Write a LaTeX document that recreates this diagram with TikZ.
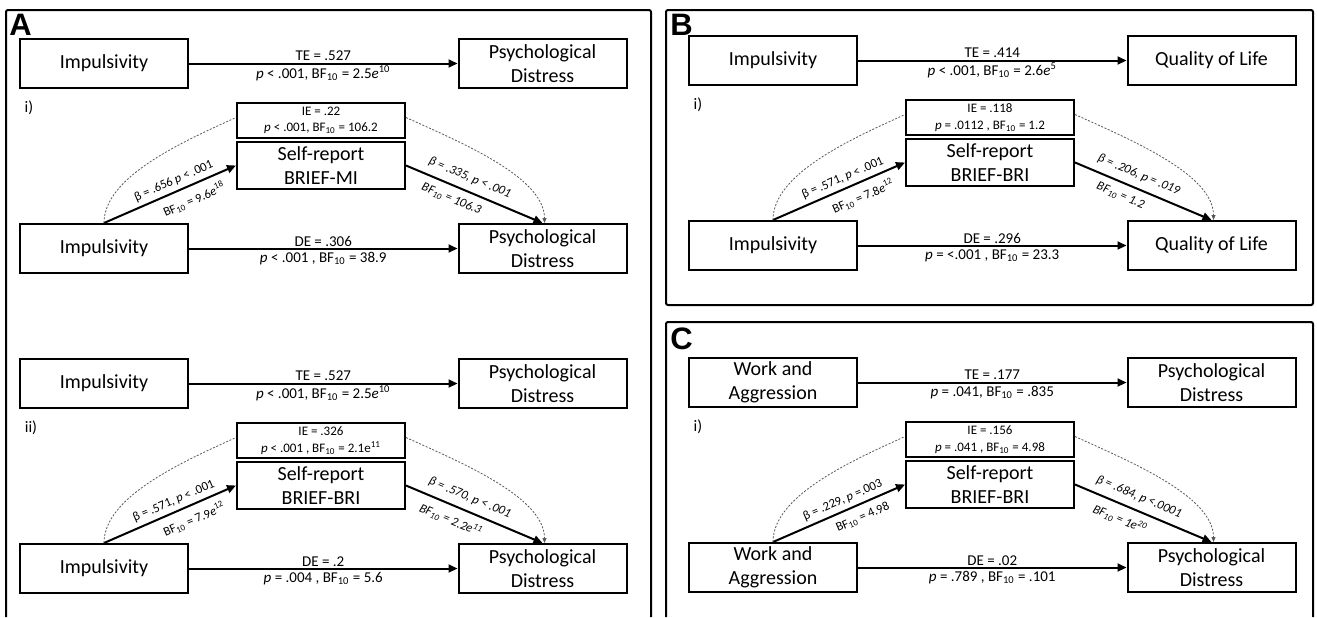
\documentclass[tikz,border=0pt]{standalone}
\usepackage{fontspec}
\setmainfont{Carlito}
\newfontfamily\hvfont{Liberation Sans}
\usetikzlibrary{arrows.meta}
\tikzset{
  box/.style={draw, line width=1pt, minimum width=84pt, minimum height=24.5pt, inner sep=0pt, align=center, font=\fontsize{10}{12}\selectfont},
  medbox/.style={box, minimum height=23.5pt},
  iebox/.style={draw, line width=1pt, minimum width=84pt, minimum height=17.5pt, inner sep=0pt, align=center, font=\fontsize{6.5}{8.3}\selectfont},
  lab/.style={inner sep=0.5pt, font=\fontsize{7.5}{9}\selectfont},
  slab/.style={sloped, inner sep=0.5pt, font=\fontsize{6.3}{7.5}\selectfont},
  slabit/.style={slab, font=\fontsize{6.3}{7.5}\selectfont\itshape},
  rom/.style={inner sep=0pt, font=\fontsize{8}{9}\selectfont},
  arr/.style={line width=1pt, -{Triangle[length=4.5pt,width=4pt]}},
  dshline/.style={line width=0.4pt, draw=gray!70!black, dash pattern=on 1pt off 0.8pt},
  dsh/.style={dshline, -{Triangle[length=2.5pt,width=2pt]}},
  frame/.style={line width=1pt, rounded corners=1pt},
  plet/.style={inner sep=0pt, anchor=base west, font=\hvfont\bfseries\fontsize{15.5}{16}\selectfont}
}
\newcommand{\bften}{BF\textsubscript{10}}
\begin{document}
\begin{tikzpicture}[x=0.5pt,y=-0.5pt]
\useasboundingbox (0,0) rectangle (1317,617);
\fill[white] (0,0) rectangle (1317,617);
% frames
\draw[frame] (6,617) -- (6,10) -- (651,10) -- (651,617);
\draw[frame] (666,10) rectangle (1313,305);
\draw[frame] (666,617) -- (666,322) -- (1313,322) -- (1313,617);
\node[plet] (la) at (9,35) {A};
\node[plet] (lb) at (670,35) {B};
\node[plet] (lc) at (670,349) {C};

% ---------- Panel A (i)
\begin{scope}
\node[box] (a1x) at (104,63.5) {Impulsivity};
\node[box] (a1y) at (542.5,63.5) {Psychological\\Distress};
\draw[arr] (a1x) -- (a1y)
  node[lab,midway,yshift=3.8pt]{TE = .527}
  node[lab,midway,yshift=-5pt]{\textit{p} < .001, \bften{} = 2.5\textit{e}\textsuperscript{10}};
\node[rom] (a1r) at (29,108) {i)};
\node[iebox] (a1ie) at (321,120.5) {IE = .22\\\textit{p} < .001, \bften{} = 106.2};
\node[medbox] (a1m) at (321,165.5) {Self-report\\BRIEF-MI};
\node[box] (a1xx) at (104,248.5) {Impulsivity};
\node[box] (a1yy) at (542.5,248.5) {Psychological\\Distress};
\draw[arr] (a1xx) -- (a1yy)
  node[lab,midway,yshift=3.5pt]{DE = .306}
  node[lab,midway,yshift=-5pt]{\textit{p} < .001 , \bften{} = 38.9};
\draw[arr] (a1xx.north) -- (a1m.west)
  node[slab,pos=.56,above=1.5pt]{β = .656 \textit{p} < .001}
  node[slab,pos=.64,below=3pt]{\bften{} = 9.6\textit{e}\textsuperscript{18}};
\draw[arr] (a1m.east) -- (a1yy.north)
  node[slabit,pos=.43,above=3pt]{β = .335, \textit{p} < .001}
  node[slabit,pos=.37,below=3pt]{\bften{} = 106.3};
\draw[dshline] (a1xx.north) .. controls +(0,-46) and +(-55,25) .. ([yshift=1.5pt]a1ie.west);
\draw[dsh] ([yshift=1.5pt]a1ie.east) .. controls +(55,25) and +(0,-46) .. ([xshift=1pt]a1yy.north);
\end{scope}

% ---------- Panel A (ii)
\begin{scope}[shift={(0,320)}]
\node[box] (a2x) at (104,63.5) {Impulsivity};
\node[box] (a2y) at (542.5,63.5) {Psychological\\Distress};
\draw[arr] (a2x) -- (a2y)
  node[lab,midway,yshift=3.8pt]{TE = .527}
  node[lab,midway,yshift=-5pt]{\textit{p} < .001, \bften{} = 2.5\textit{e}\textsuperscript{10}};
\node[rom] (a2r) at (31,108) {ii)};
\node[iebox] (a2ie) at (321,120.5) {IE = .326\\\textit{p} < .001 , \bften{} = 2.1e\textsuperscript{11}};
\node[medbox] (a2m) at (321,165.5) {Self-report\\BRIEF-BRI};
\node[box] (a2xx) at (104,248.5) {Impulsivity};
\node[box] (a2yy) at (542.5,248.5) {Psychological\\Distress};
\draw[arr] (a2xx) -- (a2yy)
  node[lab,midway,yshift=3.5pt]{DE = .2}
  node[lab,midway,yshift=-5pt]{\textit{p} = .004 , \bften{} = 5.6};
\draw[arr] (a2xx.north) -- (a2m.west)
  node[slab,pos=.56,above=1.5pt]{β = .571, \textit{p} < .001}
  node[slab,pos=.64,below=3pt]{\bften{} = 7.9\textit{e}\textsuperscript{12}};
\draw[arr] (a2m.east) -- (a2yy.north)
  node[slabit,pos=.43,above=3pt]{β = .570, \textit{p} < .001}
  node[slabit,pos=.37,below=3pt]{\bften{} = 2.2\textit{e}\textsuperscript{11}};
\draw[dshline] (a2xx.north) .. controls +(0,-46) and +(-55,25) .. ([yshift=1.5pt]a2ie.west);
\draw[dsh] ([yshift=1.5pt]a2ie.east) .. controls +(55,25) and +(0,-46) .. ([xshift=1pt]a2yy.north);
\end{scope}

% ---------- Panel B
\begin{scope}[shift={(669,-3)}]
\node[box] (bx) at (104,63.5) {Impulsivity};
\node[box] (by) at (542.5,63.5) {Quality of Life};
\draw[arr] (bx) -- (by)
  node[lab,midway,yshift=3.8pt]{TE = .414}
  node[lab,midway,yshift=-5pt]{\textit{p} < .001, \bften{} = 2.6\textit{e}\textsuperscript{5}};
\node[rom] (br) at (29,108) {i)};
\node[iebox] (bie) at (321,120.5) {IE = .118\\\textit{p} = .0112 , \bften{} = 1.2};
\node[medbox] (bm) at (321,165.5) {Self-report\\BRIEF-BRI};
\node[box] (bxx) at (104,248.5) {Impulsivity};
\node[box] (byy) at (542.5,248.5) {Quality of Life};
\draw[arr] (bxx) -- (byy)
  node[lab,midway,yshift=3.5pt]{DE = .296}
  node[lab,midway,yshift=-5pt]{\textit{p} = <.001 , \bften{} = 23.3};
\draw[arr] (bxx.north) -- (bm.west)
  node[slab,pos=.56,above=1.5pt]{β = .571, \textit{p} < .001}
  node[slab,pos=.64,below=3pt]{\bften{} = 7.8\textit{e}\textsuperscript{12}};
\draw[arr] (bm.east) -- (byy.north)
  node[slabit,pos=.43,above=3pt]{β = .206, \textit{p} = .019}
  node[slabit,pos=.37,below=3pt]{\bften{} = 1.2};
\draw[dshline] (bxx.north) .. controls +(0,-46) and +(-55,25) .. ([yshift=1.5pt]bie.west);
\draw[dsh] ([yshift=1.5pt]bie.east) .. controls +(55,25) and +(0,-46) .. ([xshift=1pt]byy.north);
\end{scope}

% ---------- Panel C
\begin{scope}[shift={(669,319)}]
\node[box] (cx) at (104,63.5) {Work and\\Aggression};
\node[box] (cy) at (542.5,63.5) {Psychological\\Distress};
\draw[arr] (cx) -- (cy)
  node[lab,midway,yshift=3.8pt]{TE = .177}
  node[lab,midway,yshift=-5pt]{\textit{p} = .041, \bften{} = .835};
\node[rom] (cr) at (29,108) {i)};
\node[iebox] (cie) at (321,120.5) {IE = .156\\\textit{p} = .041 , \bften{} = 4.98};
\node[medbox] (cm) at (321,165.5) {Self-report\\BRIEF-BRI};
\node[box] (cxx) at (104,248.5) {Work and\\Aggression};
\node[box] (cyy) at (542.5,248.5) {Psychological\\Distress};
\draw[arr] (cxx) -- (cyy)
  node[lab,midway,yshift=3.5pt]{DE = .02}
  node[lab,midway,yshift=-5pt]{\textit{p} = .789 , \bften{} = .101};
\draw[arr] (cxx.north) -- (cm.west)
  node[slab,pos=.56,above=1.5pt]{β = .229, \textit{p} =.003}
  node[slab,pos=.64,below=3pt]{\bften{} = 4.98};
\draw[arr] (cm.east) -- (cyy.north)
  node[slabit,pos=.43,above=3pt]{β = .684, \textit{p} <.0001}
  node[slabit,pos=.37,below=3pt]{\bften{} = 1\textit{e}\textsuperscript{20}};
\draw[dshline] (cxx.north) .. controls +(0,-46) and +(-55,25) .. ([yshift=1.5pt]cie.west);
\draw[dsh] ([yshift=1.5pt]cie.east) .. controls +(55,25) and +(0,-46) .. ([xshift=1pt]cyy.north);
\end{scope}
\end{tikzpicture}
\end{document}
